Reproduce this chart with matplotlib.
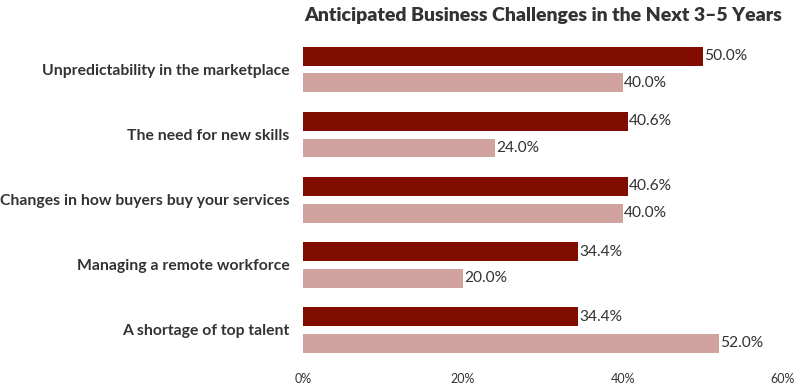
import matplotlib
matplotlib.use("Agg")
import matplotlib.pyplot as plt
import numpy as np

categories = [
    "Unpredictability in the marketplace",
    "The need for new skills",
    "Changes in how buyers buy your services",
    "Managing a remote workforce",
    "A shortage of top talent",
]
series_a = [50.0, 40.6, 40.6, 34.4, 34.4]
series_b = [40.0, 24.0, 40.0, 20.0, 52.0]
xticks = [0, 20, 40, 60]
xtick_labels = ["0%", "20%", "40%", "60%"]
title = "Anticipated Business Challenges in the Next 3\u20135 Years"

dark = "#800d00"
pink = "#d1a39f"
text_c = "#333333"

plt.rcParams['font.family'] = ['Lato', 'DejaVu Sans']

fig = plt.figure(figsize=(7.98, 3.86), dpi=100)
ax = fig.add_axes([303/798, 1-362.5/386, 480/798, (362.5-37)/386])

y = np.arange(len(categories))
h = 0.29
off = 0.205
ax.barh(y - off, series_a, height=h, color=dark)
ax.barh(y + off, series_b, height=h, color=pink)

for yi, va, vb in zip(y, series_a, series_b):
    ax.text(va + 0.15, yi - off, f"{va:.1f}%", va="center", ha="left",
            fontsize=11.2, color=text_c)
    ax.text(vb + 0.15, yi + off, f"{vb:.1f}%", va="center", ha="left",
            fontsize=11.2, color=text_c)

ax.set_xlim(0, 60)
ax.set_ylim(4.5, -0.5)
ax.set_yticks(y)
ax.set_yticklabels(categories, fontsize=11.3, fontweight="bold", color=text_c)
ax.set_xticks(xticks)
ax.set_xticklabels(xtick_labels, fontsize=9, color=text_c)
ax.tick_params(axis="y", length=0, pad=9.5)
ax.tick_params(axis="x", length=0, pad=7.5)
for s in ax.spines.values():
    s.set_visible(False)

fig.text(543/798, 1-15/386, title, ha="center", va="center", fontsize=14,
         fontweight="heavy", color=text_c)

fig.savefig("out.png", dpi=100)
